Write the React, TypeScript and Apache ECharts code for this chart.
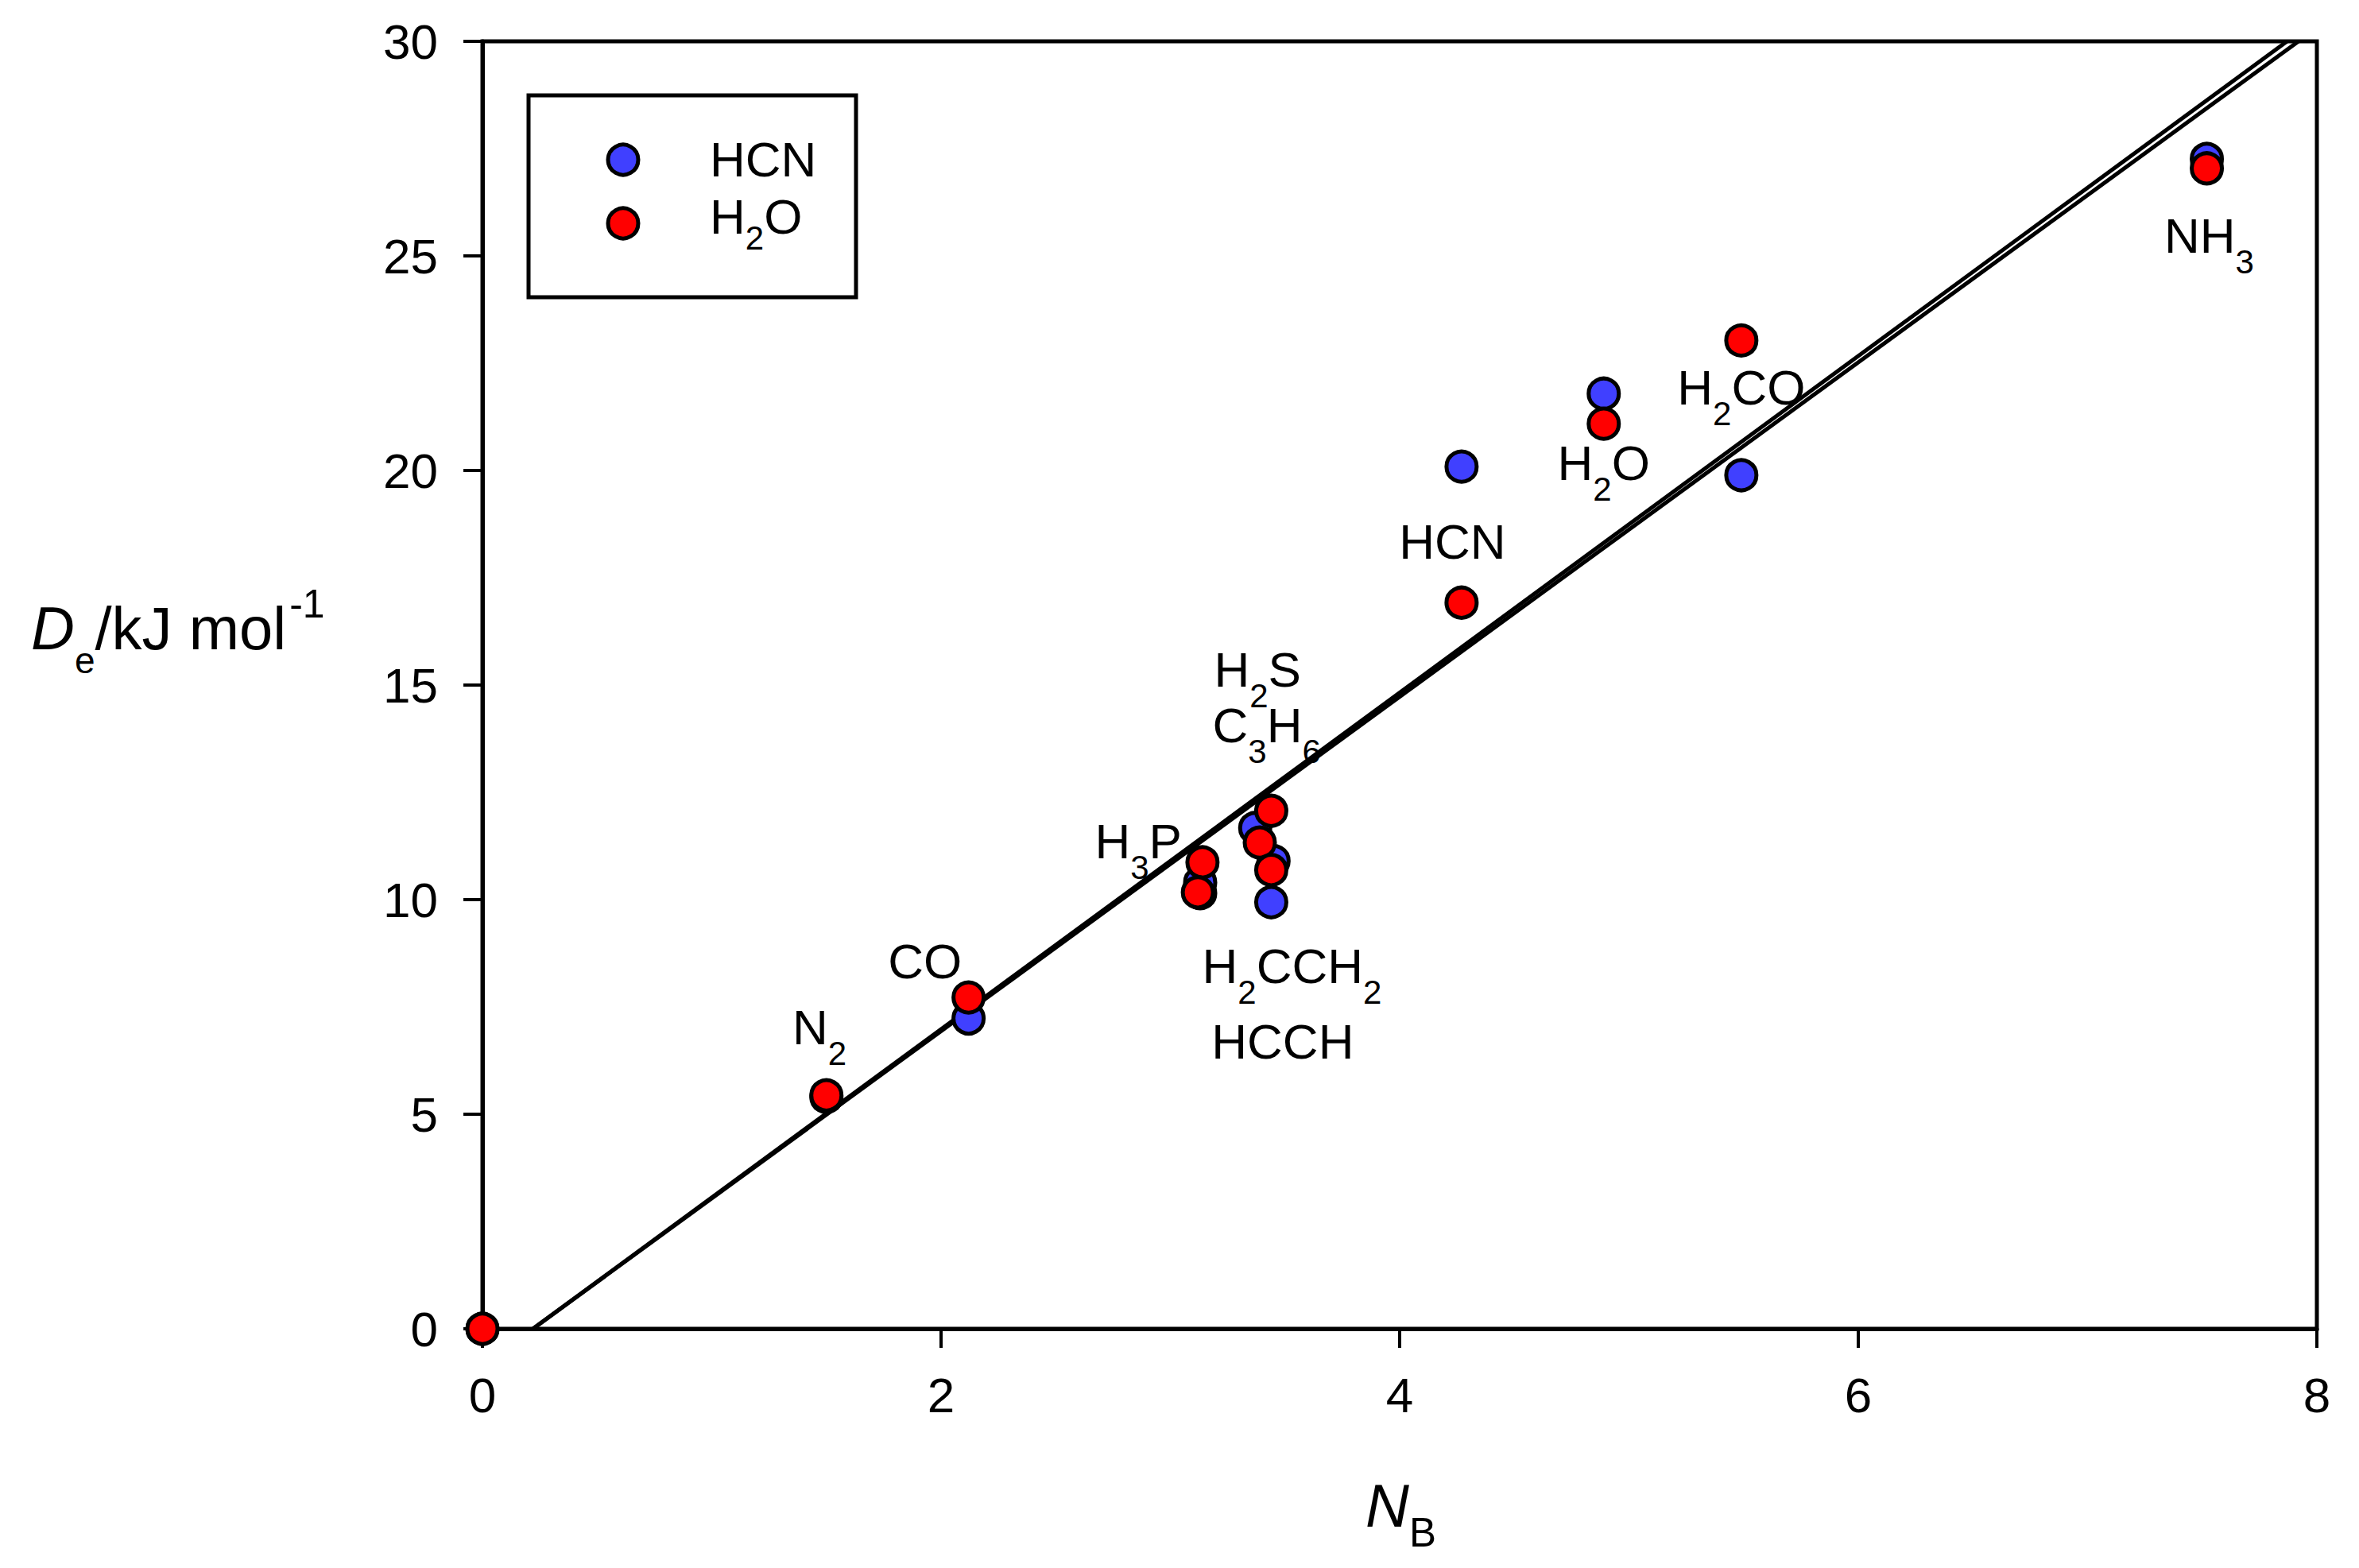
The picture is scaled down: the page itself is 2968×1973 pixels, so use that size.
import React, { useEffect, useRef } from "react";
import * as echarts from "echarts";

const FONT = "Liberation Sans";

// Series: HCN complexes (blue) and H2O complexes (red)
const seriesNames = ["HCN", "H2O"];
const seriesColors = ["#4040ff", "#ff0000"];
const hcnX = [0, 1.5, 2.12, 3.13, 3.13, 3.37, 3.45, 3.44, 4.27, 4.89, 5.49, 7.52];
const hcnY = [0, 5.4, 7.23, 10.15, 10.4, 11.67, 10.9, 9.94, 20.09, 21.79, 19.89, 27.26];
const h2oX = [0, 1.5, 2.12, 3.14, 3.12, 3.44, 3.39, 3.44, 4.27, 4.89, 5.49, 7.52];
const h2oY = [0, 5.44, 7.72, 10.87, 10.17, 12.07, 11.33, 10.69, 16.92, 21.09, 23.03, 27.04];

// Two nearly coincident fit lines
const fitAX = [0.22, 7.87];
const fitAY = [0, 30];
const fitBX = [0.22, 7.92];
const fitBY = [0, 30];

// Molecule annotations (data coordinates)
const labelNames = ["NH3", "H2CO", "H2O", "HCN", "H2S", "C3H6", "H3P", "CO", "N2", "H2CCH2", "HCCH"];
const labelX = [7.53, 5.49, 4.89, 4.23, 3.38, 3.42, 2.86, 1.93, 1.47, 3.53, 3.49];
const labelY = [25.48, 21.94, 20.18, 18.35, 15.36, 14.06, 11.36, 8.56, 7.03, 8.45, 6.69];

const xTicks = { min: 0, max: 8, interval: 2 };
const yTicks = { min: 0, max: 30, interval: 5 };

const toRich = (s: string) => s.replace(/(\d+)/g, "{s|$1}");
const zip = (xs: number[], ys: number[]) => xs.map((x, i) => [x, ys[i]]);

export default function App() {
  const ref = useRef<HTMLDivElement>(null);
  useEffect(() => {
    document.body.style.margin = "0";
    const chart = echarts.init(ref.current!, null, { renderer: "svg" });
    const axisCommon = {
      type: "value" as const,
      axisLine: { show: true, onZero: false, lineStyle: { color: "#000", width: 5 } },
      axisTick: { show: true, length: 24, lineStyle: { color: "#000", width: 4 } },
      splitLine: { show: false },
    };
    const markerStyle = (c: string) => ({ color: c, borderColor: "#000", borderWidth: 5, opacity: 1 });
    const legendItems: any[] = [];
    seriesNames.forEach((n, i) => {
      legendItems.push({
        type: "circle",
        shape: { cx: 784, cy: 201 + i * 80, r: 19 },
        style: { fill: seriesColors[i], stroke: "#000", lineWidth: 5 },
      });
      legendItems.push({
        type: "text",
        x: 893,
        y: 200 + i * 72,
        style: {
          text: toRich(n),
          align: "left",
          verticalAlign: "middle",
          fill: "#000",
          fontSize: 62,
          fontFamily: FONT,
          lineHeight: 70,
          rich: {
            s: { fontSize: 42, fontFamily: FONT, fill: "#000", lineHeight: 70, padding: [54, 0, 0, 0] },
          },
        },
      });
    });
    const option: any = {
      animation: false,
      backgroundColor: "#ffffff",
      grid: {
        left: 607,
        top: 52,
        width: 2308,
        height: 1620,
        show: true,
        borderColor: "#000",
        borderWidth: 5,
        backgroundColor: "transparent",
      },
      xAxis: {
        ...axisCommon,
        ...xTicks,
        axisLabel: { fontSize: 62, color: "#000", fontFamily: FONT, margin: 52 },
      },
      yAxis: {
        ...axisCommon,
        ...yTicks,
        axisLabel: { fontSize: 62, color: "#000", fontFamily: FONT, margin: 56 },
      },
      series: [
        {
          type: "line",
          name: "fitA",
          data: zip(fitAX, fitAY),
          symbol: "none",
          silent: true,
          lineStyle: { color: "#000", width: 5 },
          z: 1,
        },
        {
          type: "line",
          name: "fitB",
          data: zip(fitBX, fitBY),
          symbol: "none",
          silent: true,
          lineStyle: { color: "#000", width: 5 },
          z: 1,
        },
        {
          type: "scatter",
          name: seriesNames[0],
          data: zip(hcnX, hcnY),
          symbol: "circle",
          symbolSize: 38,
          clip: false,
          itemStyle: markerStyle(seriesColors[0]),
          z: 2,
        },
        {
          type: "scatter",
          name: seriesNames[1],
          data: zip(h2oX, h2oY),
          symbol: "circle",
          symbolSize: 38,
          clip: false,
          itemStyle: markerStyle(seriesColors[1]),
          z: 3,
        },
        {
          type: "scatter",
          name: "labels",
          silent: true,
          symbolSize: 0,
          clip: false,
          itemStyle: { color: "transparent" },
          data: labelNames.map((n, i) => ({ name: n, value: [labelX[i], labelY[i]] })),
          label: {
            show: true,
            position: "inside",
            align: "center",
            verticalAlign: "middle",
            formatter: (p: any) => toRich(p.name),
            fontSize: 62,
            fontFamily: FONT,
            color: "#000",
            opacity: 1,
            lineHeight: 70,
            textBorderWidth: 0,
            textBorderColor: "transparent",
            rich: {
              s: { fontSize: 42, fontFamily: FONT, color: "#000", lineHeight: 70, padding: [66, 0, 0, 0] },
            },
          },
          z: 4,
        },
      ],
      graphic: [
        {
          type: "rect",
          shape: { x: 665, y: 120, width: 412, height: 254 },
          style: { fill: "transparent", stroke: "#000", lineWidth: 5 },
        },
        ...legendItems,
        {
          type: "text",
          x: 39,
          y: 790,
          style: {
            text: "{i|D}{e|e}{n|/kJ mol}{p|-1}",
            align: "left",
            verticalAlign: "middle",
            fill: "#000",
            rich: {
              i: { fontSize: 76, fontStyle: "italic", fontFamily: FONT, lineHeight: 90, fill: "#000" },
              e: { fontSize: 46, fontFamily: FONT, lineHeight: 90, padding: [82, 0, 0, 0], fill: "#000" },
              n: { fontSize: 76, fontFamily: FONT, lineHeight: 90, fill: "#000" },
              p: { fontSize: 50, fontFamily: FONT, lineHeight: 90, padding: [0, 0, 60, 4], fill: "#000" },
            },
          },
        },
        {
          type: "text",
          x: 1718,
          y: 1894,
          style: {
            text: "{i|N}{b|B}",
            align: "left",
            verticalAlign: "middle",
            fill: "#000",
            rich: {
              i: { fontSize: 76, fontStyle: "italic", fontFamily: FONT, lineHeight: 90, fill: "#000" },
              b: { fontSize: 51, fontFamily: FONT, lineHeight: 90, padding: [68, 0, 0, 0], fill: "#000" },
            },
          },
        },
      ],
    };
    chart.setOption(option);
    return () => chart.dispose();
  }, []);
  return (
    <div
      ref={ref}
      style={{ position: "fixed", left: 0, top: 0, width: 2968, height: 1973, background: "#fff" }}
    />
  );
}
